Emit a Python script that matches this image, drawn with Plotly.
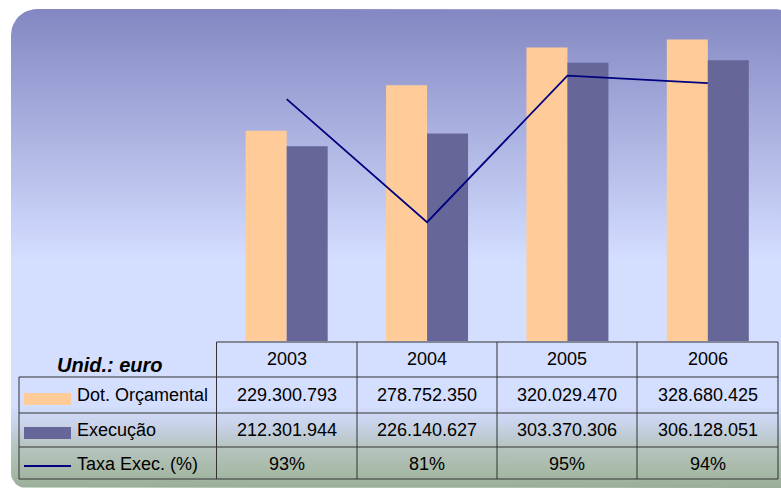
import math
import plotly.graph_objects as go

# ---------------- data ----------------
years = ["2003", "2004", "2005", "2006"]
dot_orcamental = [229300793, 278752350, 320029470, 328680425]
execucao = [212301944, 226140627, 303370306, 306128051]
taxa_exec = [92.6, 81.1, 94.8, 94.1]

series_names = ["Dot. Orçamental", "Execução", "Taxa Exec. (%)"]
unit_label = "Unid.: euro"

# ---------------- styling ----------------
W, H = 781, 490
FONT = "Liberation Sans, Arial, sans-serif"
C_DOT = "#FFCC99"
C_EXE = "#666699"
C_LINE = "#000080"
C_GRID = "#333333"


def Y(py):
    return H - py


def fmt_pt(v):
    return f"{v:,}".replace(",", ".")


# rounded background panel (decoration)
def rounded_panel(x0, y0, x1, y1, r_tl, r_tr, r_br, r_bl, n=12):
    pts = []
    corners = [
        (x0 + r_tl, y0 + r_tl, r_tl, 180, 270),
        (x1 - r_tr, y0 + r_tr, r_tr, 270, 360),
        (x1 - r_br, y1 - r_br, r_br, 0, 90),
        (x0 + r_bl, y1 - r_bl, r_bl, 90, 180),
    ]
    for cx, cy, r, a0, a1 in corners:
        for i in range(n + 1):
            a = math.radians(a0 + (a1 - a0) * i / n)
            pts.append((cx + r * math.cos(a), cy + r * math.sin(a)))
    pts.append(pts[0])
    return [p[0] for p in pts], [Y(p[1]) for p in pts]


px0, py0, px1, py1 = 11, 9, 800, 488
bx, by = rounded_panel(px0, py0, px1, py1, 26, 26, 15, 15)


def frac(py):
    return (py1 - py) / (py1 - py0)


grad = [
    [0.0, "#99AE99"],
    [frac(470), "#A8BAA8"],
    [frac(447), "#B6C4C0"],
    [frac(425), "#C8D2E8"],
    [frac(405), "#D4DEFF"],
    [frac(260), "#D4DEFF"],
    [1.0, "#8387C2"],
]

fig = go.Figure()

fig.add_trace(go.Scatter(
    x=bx, y=by, xaxis="x", yaxis="y", mode="lines", fill="toself",
    line=dict(width=0), fillgradient=dict(type="vertical", colorscale=grad),
    hoverinfo="skip", showlegend=False,
))

fig.add_trace(go.Bar(
    x=years, y=dot_orcamental, name=series_names[0], marker=dict(color=C_DOT, line=dict(width=0)),
    xaxis="x2", yaxis="y2", showlegend=False,
))
fig.add_trace(go.Bar(
    x=years, y=execucao, name=series_names[1], marker=dict(color=C_EXE, line=dict(width=0)),
    xaxis="x2", yaxis="y2", showlegend=False,
))
fig.add_trace(go.Scatter(
    x=years, y=taxa_exec, name=series_names[2], mode="lines",
    line=dict(color=C_LINE, width=1.8), xaxis="x2", yaxis="y3", showlegend=False,
))

# ---------------- table ----------------
col_x = [216.5, 357, 497, 637, 778]
row_y = [342, 377, 413, 447, 479]
left_x = 19

shapes = []


def line(x0, y0, x1, y1, color=C_GRID, width=1):
    shapes.append(dict(type="line", xref="x", yref="y", x0=x0, y0=Y(y0), x1=x1, y1=Y(y1),
                       line=dict(color=color, width=width), layer="above"))


line(col_x[0], row_y[0], col_x[-1], row_y[0])
for ry in row_y[1:]:
    line(left_x, ry, col_x[-1], ry)
for cx in col_x:
    line(cx, row_y[0], cx, row_y[-1])
line(left_x, row_y[1], left_x, row_y[-1])

# legend keys
shapes.append(dict(type="rect", xref="x", yref="y", x0=24, x1=71, y0=Y(393), y1=Y(405),
                   fillcolor=C_DOT, line=dict(width=0), layer="above"))
shapes.append(dict(type="rect", xref="x", yref="y", x0=24, x1=71, y0=Y(427), y1=Y(439),
                   fillcolor=C_EXE, line=dict(width=0), layer="above"))
line(24, 466, 71, 466, color=C_LINE, width=1.8)

ann = []


def text(x, y, s, xanchor="center", size=18):
    ann.append(dict(x=x, y=Y(y), xref="x", yref="y", text=s, showarrow=False,
                    xanchor=xanchor, yanchor="middle",
                    font=dict(family=FONT, size=size, color="#000000")))


text(110, 365, f"<b><i>{unit_label}</i></b>", size=20)
centers = [(col_x[i] + col_x[i + 1]) / 2 for i in range(4)]
for i, yr in enumerate(years):
    text(centers[i], 358.5, yr)
    text(centers[i], 395, fmt_pt(dot_orcamental[i]))
    text(centers[i], 430, fmt_pt(execucao[i]))
    text(centers[i], 463.5, f"{round(taxa_exec[i])}%")

text(75, 395, series_names[0], xanchor="left")
text(75, 430, series_names[1], xanchor="left")
text(75, 463.5, series_names[2], xanchor="left")

hidden = dict(visible=False, showgrid=False, zeroline=False, showticklabels=False, fixedrange=True)

fig.update_layout(
    width=W, height=H,
    margin=dict(l=0, r=0, t=0, b=0),
    paper_bgcolor="white", plot_bgcolor="rgba(0,0,0,0)",
    barmode="group", bargap=0.416, bargroupgap=0,
    xaxis=dict(domain=[0, 1], range=[0, W], anchor="y", **hidden),
    yaxis=dict(domain=[0, 1], range=[0, H], anchor="x", **hidden),
    xaxis2=dict(domain=[col_x[0] / W, col_x[-1] / W], anchor="y2", type="category",
                range=[-0.5, 3.5], **hidden),
    yaxis2=dict(domain=[Y(341) / H, Y(20) / H], anchor="x2", range=[0, 350e6], **hidden),
    yaxis3=dict(overlaying="y2", anchor="x2", range=[70, 100], **hidden),
    shapes=shapes,
    annotations=ann,
    showlegend=False,
)

fig.write_html("out.html", config={"displayModeBar": False},
               post_script="document.body.style.margin='0px';document.body.style.overflow='hidden';")
